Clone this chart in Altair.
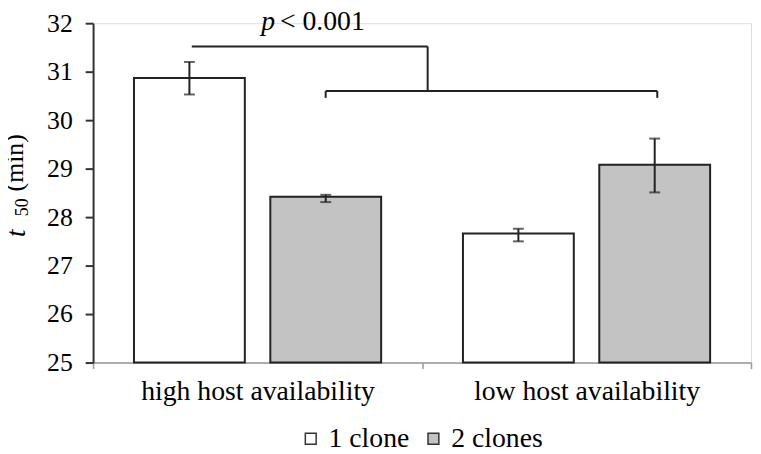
import altair as alt
import pandas as pd

# ---- data ----
groups = ["high host availability", "low host availability"]
series = ["1 clone", "2 clones"]
grp_col = ["high host availability", "high host availability",
           "low host availability", "low host availability"]
ser_col = ["1 clone", "2 clones", "1 clone", "2 clones"]
means = [30.87, 28.42, 27.66, 29.08]
err_lo = [30.53, 28.31, 27.50, 28.51]
err_hi = [31.20, 28.46, 27.76, 29.62]
y_ticks = [25, 26, 27, 28, 29, 30, 31, 32]
y_min, y_max = 25, 32

# significance bracket (x in group units: group centres at 0 and 1)
br_x = [-0.20, 0.517, 0.207, 0.207, 1.215]
br_x2 = [0.517, 0.517, 1.215, 0.207, 1.215]
br_y = [31.52, 31.52, 30.60, 30.60, 30.60]
br_y2 = [31.52, 30.60, 30.60, 30.46, 30.46]
p_label_x = [0.053, 0.068]
p_label_y = 31.87

FONT = "Liberation Serif, Times New Roman, serif"
INK = "#222222"

df = pd.DataFrame({"group": grp_col, "series": ser_col,
                   "mean": means, "lo": err_lo, "hi": err_hi})
br = pd.DataFrame({"x": br_x, "x2": br_x2, "y": br_y, "y2": br_y2})

y_axis = alt.Axis(values=y_ticks, title=None, grid=False, labelFont=FONT,
                  labelFontSize=26, labelColor="black", labelPadding=13,
                  tickSize=8, tickColor="#333", tickWidth=2,
                  domainColor="#333", domainWidth=2)
y_scale = alt.Scale(domain=[y_min, y_max], nice=False, zero=False)

x_enc = alt.X("group:N", sort=groups,
              scale=alt.Scale(paddingInner=0, paddingOuter=0),
              axis=alt.Axis(title=None, labelAngle=0, tickBand="extent",
                            labelFont=FONT, labelFontSize=28, labelLimit=0,
                            labelColor="black", labelPadding=9,
                            tickSize=6, tickColor="#999", tickWidth=1.5,
                            domainColor="#999", domainWidth=1.5))
xo_enc = alt.XOffset("series:N", sort=series,
                     scale=alt.Scale(paddingInner=0.187, paddingOuter=0.30))

bars = alt.Chart(df).mark_bar(stroke=INK, strokeWidth=2).encode(
    x=x_enc, xOffset=xo_enc,
    y=alt.Y("mean:Q", scale=y_scale, axis=y_axis),
    y2=alt.datum(y_min),
    fill=alt.Fill("series:N", sort=series,
                  scale=alt.Scale(domain=series, range=["white", "#c3c3c3"]),
                  legend=alt.Legend(title=None, orient="none", legendX=206,
                                    legendY=406, direction="horizontal",
                                    labelFont=FONT, labelFontSize=28,
                                    labelLimit=0,
                                    labelColor="black", symbolType="square",
                                    symbolSize=120, symbolStrokeColor="#333",
                                    symbolStrokeWidth=1.5, labelOffset=4,
                                    columnPadding=10)),
)
err = alt.Chart(df).mark_rule(color=INK, strokeWidth=2).encode(
    x=x_enc, xOffset=xo_enc,
    y=alt.Y("lo:Q", scale=y_scale, axis=y_axis), y2="hi:Q")
cap_lo = alt.Chart(df).mark_tick(color=INK, thickness=2, size=11).encode(
    x=x_enc, xOffset=xo_enc, y=alt.Y("lo:Q", scale=y_scale, axis=y_axis))
cap_hi = alt.Chart(df).mark_tick(color=INK, thickness=2, size=11).encode(
    x=x_enc, xOffset=xo_enc, y=alt.Y("hi:Q", scale=y_scale, axis=y_axis))

main = alt.layer(bars, err, cap_lo, cap_hi)

lin_x = alt.Scale(domain=[-0.5, 1.5], nice=False, zero=False)
bracket = alt.Chart(br).mark_rule(color=INK, strokeWidth=2).encode(
    x=alt.X("x:Q", scale=lin_x, axis=None), x2="x2:Q",
    y=alt.Y("y:Q", scale=y_scale, axis=y_axis), y2="y2:Q")

p_df = pd.DataFrame({"x": p_label_x, "y": [p_label_y, p_label_y],
                     "t": ["p", "< 0.001"]})
p_it = alt.Chart(p_df.iloc[[0]]).mark_text(
    font=FONT, fontSize=28, fontStyle="italic", align="right",
    baseline="alphabetic", color="black").encode(
    x=alt.X("x:Q", scale=lin_x, axis=None),
    y=alt.Y("y:Q", scale=y_scale, axis=y_axis), text="t:N")
p_rest = alt.Chart(p_df.iloc[[1]]).mark_text(
    font=FONT, fontSize=28, align="left",
    baseline="alphabetic", color="black").encode(
    x=alt.X("x:Q", scale=lin_x, axis=None),
    y=alt.Y("y:Q", scale=y_scale, axis=y_axis), text="t:N")

# y-axis title: italic t, subscript 50, (min)
title_parts = pd.DataFrame({"t": ["t", "50", "(min)"]})
t_main = alt.Chart(title_parts.iloc[[0]]).mark_text(
    font=FONT, fontSize=27, fontStyle="italic", angle=270, align="left",
    baseline="alphabetic", color="black").encode(
    x=alt.value(-69), y=alt.value(216), text="t:N")
t_sub = alt.Chart(title_parts.iloc[[1]]).mark_text(
    font=FONT, fontSize=18, angle=270, align="left",
    baseline="alphabetic", color="black").encode(
    x=alt.value(-66), y=alt.value(195), text="t:N")
t_unit = alt.Chart(title_parts.iloc[[2]]).mark_text(
    font=FONT, fontSize=26, angle=270, align="left",
    baseline="alphabetic", color="black").encode(
    x=alt.value(-71), y=alt.value(170), text="t:N")

annot = alt.layer(bracket, p_it, p_rest, t_main, t_sub, t_unit)

chart = alt.layer(main, annot).resolve_scale(x="independent").properties(
    width=665, height=343,
    padding={"left": 86, "top": 13, "right": 2, "bottom": 84},
    autosize=alt.AutoSizeParams(type="none"),
).configure_view(stroke=None).configure(background="white")

chart.save("out.html", embed_options={"renderer": "svg", "actions": False})
